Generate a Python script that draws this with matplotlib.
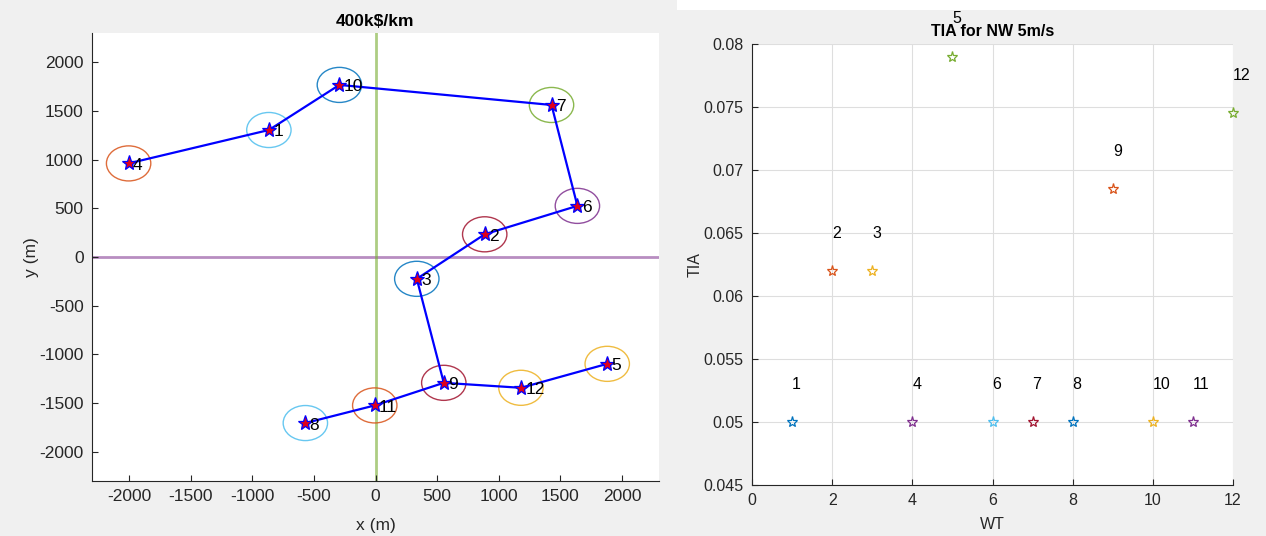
import matplotlib
matplotlib.use("Agg")
import matplotlib.pyplot as plt
from matplotlib.patches import Circle, Rectangle
import numpy as np

plt.rcParams['font.family'] = ['Liberation Sans', 'DejaVu Sans']
plt.rcParams['axes.unicode_minus'] = False

# MATLAB default colour order
palette = ['#0072BD', '#D95319', '#EDB120', '#7E2F8E', '#77AC30', '#4DBEEE', '#A2142F']

# Turbine layout (m)
turbine_ids = list(range(1, 13))
turbine_x = [-865, 886, 335, -2003, 1880, 1638, 1428, -569, 554, -293, -6, 1180]
turbine_y = [1304, 233, -224, 961, -1097, 525, 1561, -1705, -1292, 1767, -1524, -1343]
# cable connections (turbine id pairs)
cable_links = [(4, 1), (1, 10), (10, 7), (7, 6), (6, 2), (2, 3), (3, 9),
               (9, 12), (12, 5), (9, 11), (11, 8)]
circle_radius = 180

# Turbulence intensity per turbine
wt_index = list(range(1, 13))
tia_values = [0.05, 0.062, 0.062, 0.05, 0.079, 0.05, 0.05, 0.05, 0.0685, 0.05, 0.05, 0.0745]

W, H = 1266, 536
fig = plt.figure(figsize=(W / 100, H / 100), dpi=100, facecolor='#f0f0f0')
fig.patches.append(Rectangle((677 / W, 1 - 10 / H), 1 - 677 / W, 10 / H,
                             transform=fig.transFigure, facecolor='white',
                             edgecolor='none', zorder=0))


def matlab_axes(ax, fs):
    ax.set_facecolor('white')
    for s in ('top', 'right'):
        ax.spines[s].set_visible(False)
    for s in ('left', 'bottom'):
        ax.spines[s].set_color('#262626')
        ax.spines[s].set_linewidth(0.8)
    ax.tick_params(direction='in', length=4, width=0.8, colors='#262626',
                   labelsize=fs, labelcolor='#262626', pad=6)


# ---- left: layout with cable routing ----
ax1 = fig.add_axes([92 / W, 1 - 481 / H, (659 - 92) / W, (481 - 33) / H])
matlab_axes(ax1, 12.5)
ax1.set_xlim(-2300, 2300)
ax1.set_ylim(-2300, 2300)
ax1.set_xticks(np.arange(-2000, 2001, 500))
ax1.set_yticks(np.arange(-2000, 2001, 500))

ax1.axhline(0, color='#7E2F8E', alpha=0.55, lw=2, zorder=1)
ax1.axvline(0, color='#77AC30', alpha=0.6, lw=2, zorder=1)

for k, (tx, ty) in enumerate(zip(turbine_x, turbine_y)):
    ax1.add_patch(Circle((tx, ty), circle_radius, fill=False,
                         edgecolor=palette[(k + 5) % 7], lw=1.0, alpha=0.85,
                         zorder=2))

for a, b in cable_links:
    ax1.plot([turbine_x[a - 1], turbine_x[b - 1]],
             [turbine_y[a - 1], turbine_y[b - 1]],
             color='#0000ff', lw=1.6, zorder=3)

ax1.plot(turbine_x, turbine_y, linestyle='none', marker='*', markersize=11,
         markerfacecolor='#e0001a', markeredgecolor='#0000ff',
         markeredgewidth=0.9, zorder=4)
for tid, tx, ty in zip(turbine_ids, turbine_x, turbine_y):
    ax1.text(tx + 35, ty - 20, str(tid), fontsize=12.5, ha='left', va='center',
             color='black', zorder=5)

ax1.set_xlabel('x (m)', fontsize=12.5, color='#262626', labelpad=10)
ax1.set_ylabel('y (m)', fontsize=12.5, color='#262626', labelpad=0)
ax1.set_title('400k\\$/km', fontsize=12.5, fontweight='bold', pad=5)

# ---- right: turbulence intensity per turbine ----
ax2 = fig.add_axes([752 / W, 1 - 485 / H, (1233 - 752) / W, (485 - 44) / H])
matlab_axes(ax2, 11.5)
ax2.set_xlim(0, 12)
ax2.set_ylim(0.045, 0.08)
ax2.set_xticks(np.arange(0, 13, 2))
ax2.set_yticks(np.arange(0.045, 0.0801, 0.005))
ax2.set_yticklabels(['0.045', '0.05', '0.055', '0.06', '0.065', '0.07', '0.075', '0.08'])
ax2.grid(True, color='#dedede', lw=0.8)
ax2.set_axisbelow(True)

for k, (w, t) in enumerate(zip(wt_index, tia_values)):
    ax2.plot([w], [t], linestyle='none', marker='*', markersize=8,
             markerfacecolor='none', markeredgecolor=palette[k % 7],
             markeredgewidth=0.9, clip_on=False, zorder=3)
    ax2.text(w, t + 0.003, str(w), fontsize=11.5, ha='left', va='center',
             color='black', clip_on=False, zorder=4)

ax2.set_xlabel('WT', fontsize=11.5, color='#262626', labelpad=6)
ax2.set_ylabel('TIA', fontsize=11.5, color='#262626', labelpad=1)
ax2.set_title('TIA for NW 5m/s', fontsize=11.5, fontweight='bold', pad=6)

fig.savefig('out.png', dpi=100, facecolor=fig.get_facecolor())
